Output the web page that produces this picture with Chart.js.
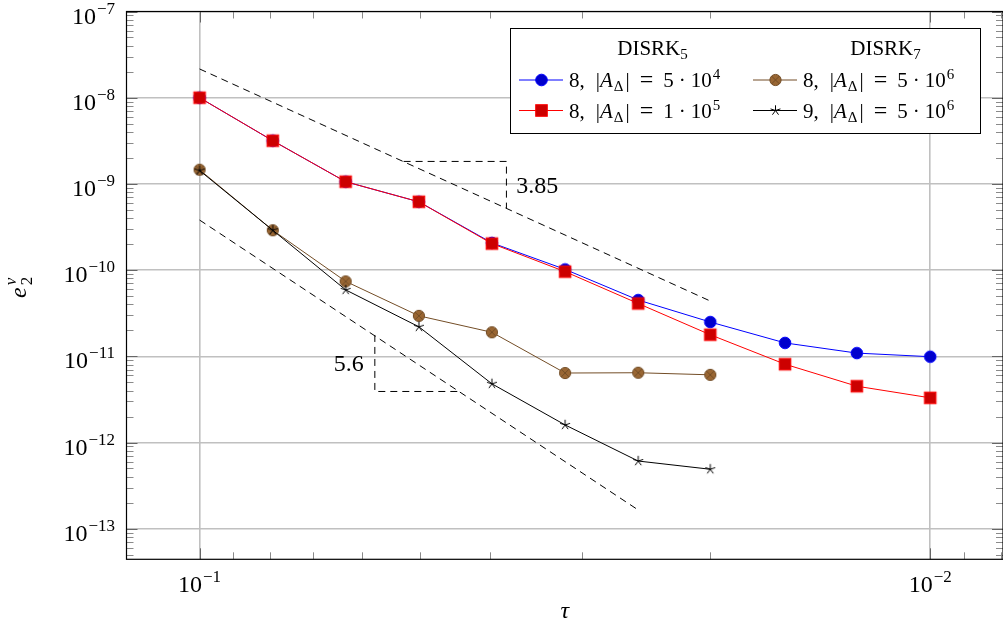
<!DOCTYPE html>
<html>
<head>
<meta charset="utf-8">
<script src="https://cdn.jsdelivr.net/npm/chart.js@4.4.1/dist/chart.umd.min.js"></script>
<style>
  html, body { margin: 0; padding: 0; background: #fff; overflow: hidden; }
  #wrap { width: 1010px; height: 627px; }
</style>
</head>
<body>
<div id="wrap"><canvas id="myChart" width="1010" height="627"></canvas></div>
<script>
// step sizes tau (x axis, reversed log scale)
const tau = [0.1, 0.0794, 0.0631, 0.0501, 0.0398, 0.0316, 0.0251, 0.02, 0.0158, 0.0126, 0.01];

// errors e_2^v
const errDisrk5A = [1.0e-8, 3.17e-9, 1.06e-9, 6.2e-10, 2.07e-10, 1.02e-10, 4.5e-11, 2.5e-11, 1.43e-11, 1.09e-11, 9.9e-12];
const errDisrk5B = [1.0e-8, 3.17e-9, 1.06e-9, 6.2e-10, 2.03e-10, 9.6e-11, 4.1e-11, 1.78e-11, 8.1e-12, 4.5e-12, 3.3e-12];
const errDisrk7A = [1.46e-9, 2.9e-10, 7.4e-11, 2.95e-11, 1.9e-11, 6.4e-12, 6.45e-12, 6.1e-12];
const errDisrk7B = [1.43e-9, 2.9e-10, 5.9e-11, 2.2e-11, 4.8e-12, 1.6e-12, 6.1e-13, 4.9e-13];

// reference slopes (dashed)
const slopeHighX = [0.1, 0.02];
const slopeHighY = [2.155e-8, 4.38e-11];
const slopeLowX = [0.1, 0.02507];
const slopeLowY = [3.81e-10, 1.64e-13];
const triHighX = [0.05257, 0.03802, 0.03802];
const triHighY = [1.823e-9, 1.823e-9, 5.25e-10];
const triLowX = [0.05756, 0.05756, 0.0441];
const triLowY = [1.77e-11, 3.91e-12, 3.91e-12];
const slopeText = ['3.85', '5.6'];
const slopeTextX = [0.03687, 0.05959];
const slopeTextY = [9.32e-10, 7.91e-12];

// legend
const legendHeads = ['5', '7'];
const legendRank = ['8', '8', '8', '9'];
const legendCoef = ['5', '1', '5', '5'];
const legendPow = ['4', '5', '6', '6'];

const SERIF = '"Liberation Serif", "Times New Roman", serif';
const GRID = '#c0c0c0';

const pts = (xs, ys) => ys.map((y, i) => ({ x: xs[i], y: y }));

// --- marker painters (pgfplots default cycle look) ---
function paintCircle(g, x, y)
{
    g.beginPath();
    g.arc(x, y, 5.8, 0, Math.PI * 2);
    g.fillStyle = 'rgb(0,0,204)';
    g.fill();
    g.lineWidth = 1;
    g.strokeStyle = 'rgb(0,0,255)';
    g.stroke();
}

function paintSquare(g, x, y)
{
    const s = 5.8;
    g.fillStyle = 'rgb(204,0,0)';
    g.fillRect(x - s, y - s, 2 * s, 2 * s);
    g.lineWidth = 1;
    g.strokeStyle = 'rgb(255,0,0)';
    g.strokeRect(x - s, y - s, 2 * s, 2 * s);
}

function paintOtimes(g, x, y)
{
    const r = 5.6, d = r * 0.7071;
    g.beginPath();
    g.arc(x, y, r, 0, Math.PI * 2);
    g.fillStyle = 'rgb(153,102,51)';
    g.fill();
    g.lineWidth = 1;
    g.strokeStyle = 'rgb(115,77,38)';
    g.stroke();
    g.beginPath();
    g.moveTo(x - d, y - d); g.lineTo(x + d, y + d);
    g.moveTo(x - d, y + d); g.lineTo(x + d, y - d);
    g.stroke();
}

function paintStar(g, x, y)
{
    g.beginPath();
    for (let k = 0; k < 5; k++) {
        const a = -Math.PI / 2 + k * 2 * Math.PI / 5;
        g.moveTo(x, y);
        g.lineTo(x + 5.2 * Math.cos(a), y + 5.2 * Math.sin(a));
    }
    g.lineWidth = 1;
    g.strokeStyle = '#000';
    g.stroke();
}

function markerImage(paint)
{
    const c = document.createElement('canvas');
    c.width = 16; c.height = 16;
    paint(c.getContext('2d'), 8, 8);
    return c;
}

const painters = [paintCircle, paintSquare, paintOtimes, paintStar];
const lineColors = ['rgb(0,0,255)', 'rgb(255,0,0)', 'rgb(115,77,38)', '#000'];

function decadeTicks(scale)
{
    const ticks = [];
    const lo = Math.floor(Math.log10(scale.min));
    const hi = Math.ceil(Math.log10(scale.max));
    for (let e = lo; e <= hi; e++) {
        for (let m = 1; m <= 9; m++) {
            const v = m * Math.pow(10, e);
            if (v >= scale.min * 0.99999 && v <= scale.max * 1.00001) {
                ticks.push({ value: v, major: m === 1 });
            }
        }
    }
    scale.ticks = ticks;
}

// draws a sequence of text pieces; returns width
function drawRuns(ctx, runs, x, y, align)
{
    ctx.textAlign = 'left';
    ctx.textBaseline = 'alphabetic';
    let w = 0;
    for (const r of runs) {
        if (r.gap) { w += r.gap; continue; }
        ctx.font = r.font;
        w += ctx.measureText(r.text).width;
    }
    let cx = align === 'right' ? x - w : align === 'center' ? x - w / 2 : x;
    for (const r of runs) {
        if (r.gap) { cx += r.gap; continue; }
        ctx.font = r.font;
        ctx.fillText(r.text, cx, y + (r.dy || 0));
        cx += ctx.measureText(r.text).width;
    }
    return w;
}

function powerRuns(exp)
{
    return [
        { text: '10', font: `24px ${SERIF}` },
        { gap: 1 },
        { text: '\u2212' + Math.abs(exp), font: `17px ${SERIF}`, dy: -10 },
    ];
}

const axisDecor = {
    id: 'axisDecor',
    beforeDatasetsDraw(chart)
    {
        const { ctx, chartArea: a, scales } = chart;
        ctx.save();
        ctx.lineWidth = 1;
        for (const t of scales.y.ticks) {
            const py = Math.round(scales.y.getPixelForValue(t.value)) + 0.5;
            const len = t.major ? 11 : 7;
            ctx.strokeStyle = t.major ? '#666' : '#8a8a8a';
            ctx.beginPath();
            ctx.moveTo(a.left, py); ctx.lineTo(a.left + len, py);
            ctx.moveTo(a.right, py); ctx.lineTo(a.right - len, py);
            ctx.stroke();
        }
        for (const t of scales.x.ticks) {
            const px = Math.round(scales.x.getPixelForValue(t.value)) + 0.5;
            const len = t.major ? 11 : 7;
            ctx.strokeStyle = t.major ? '#666' : '#8a8a8a';
            ctx.beginPath();
            ctx.moveTo(px, a.bottom); ctx.lineTo(px, a.bottom - len);
            ctx.moveTo(px, a.top); ctx.lineTo(px, a.top + len);
            ctx.stroke();
        }
        ctx.restore();
    },
    afterDraw(chart)
    {
        const { ctx, chartArea: a, scales } = chart;
        ctx.save();
        // frame
        ctx.strokeStyle = '#000';
        ctx.lineWidth = 1.2;
        ctx.strokeRect(a.left, a.top, a.right - a.left, a.bottom - a.top);

        // tick labels
        ctx.fillStyle = '#000';
        for (const t of scales.y.ticks) {
            if (!t.major) continue;
            const py = scales.y.getPixelForValue(t.value);
            drawRuns(ctx, powerRuns(Math.round(Math.log10(t.value))), 115, py + 12, 'right');
        }
        for (const t of scales.x.ticks) {
            if (!t.major) continue;
            const px = scales.x.getPixelForValue(t.value);
            drawRuns(ctx, powerRuns(Math.round(Math.log10(t.value))), px, a.bottom + 33, 'center');
        }

        // axis titles
        ctx.font = `italic 24px ${SERIF}`;
        ctx.textAlign = 'center';
        ctx.fillText('\u03C4', (a.left + a.right) / 2, 618);
        ctx.save();
        ctx.translate(26, 298);
        ctx.rotate(-Math.PI / 2);
        ctx.textAlign = 'left';
        ctx.font = `italic 24px ${SERIF}`;
        ctx.fillText('e', 0, 0);
        const ew = ctx.measureText('e').width;
        ctx.font = `italic 17px ${SERIF}`;
        ctx.fillText('v', ew + 2, -10);
        ctx.font = `17px ${SERIF}`;
        ctx.fillText('2', ew + 2, 6);
        ctx.restore();

        // slope labels
        ctx.font = `24px ${SERIF}`;
        ctx.textBaseline = 'middle';
        ctx.textAlign = 'left';
        ctx.fillText(slopeText[0], scales.x.getPixelForValue(slopeTextX[0]), scales.y.getPixelForValue(slopeTextY[0]));
        ctx.textAlign = 'right';
        ctx.fillText(slopeText[1], scales.x.getPixelForValue(slopeTextX[1]), scales.y.getPixelForValue(slopeTextY[1]));

        // legend
        const bx = 510.5, by = 28.5, bw = 470, bh = 105;
        ctx.fillStyle = '#fff';
        ctx.fillRect(bx, by, bw, bh);
        ctx.strokeStyle = '#000';
        ctx.lineWidth = 1;
        ctx.strokeRect(bx, by, bw, bh);
        ctx.fillStyle = '#000';
        const colX = [519, 753];
        const colHead = [652.5, 885.5];
        const rowY = [80, 110.5];
        legendHeads.forEach((h, c) => {
            drawRuns(ctx, [
                { text: 'DISRK', font: `21px ${SERIF}` },
                { text: h, font: `15px ${SERIF}`, dy: 4 },
            ], colHead[c], 54.5, 'center');
        });
        for (let i = 0; i < 4; i++) {
            const c = Math.floor(i / 2), r = i % 2;
            const lx = colX[c], ly = rowY[r];
            ctx.strokeStyle = lineColors[i];
            ctx.lineWidth = 1;
            ctx.beginPath();
            ctx.moveTo(lx, ly); ctx.lineTo(lx + 44, ly);
            ctx.stroke();
            painters[i](ctx, lx + 22.5, ly);
            ctx.fillStyle = '#000';
            drawRuns(ctx, [
                { text: legendRank[i] + ',', font: `21px ${SERIF}` },
                { gap: 11 },
                { text: '|', font: `21px ${SERIF}` },
                { text: 'A', font: `italic 21px ${SERIF}` },
                { gap: 1 },
                { text: '\u0394', font: `15px ${SERIF}`, dy: 4 },
                { gap: 2 },
                { text: '|', font: `21px ${SERIF}` },
                { gap: 10 },
                { text: '=', font: `24px ${SERIF}` },
                { gap: 10 },
                { text: legendCoef[i], font: `21px ${SERIF}` },
                { gap: 5 },
                { text: '\u00B7', font: `21px ${SERIF}` },
                { gap: 5 },
                { text: '10', font: `21px ${SERIF}` },
                { gap: 1 },
                { text: legendPow[i], font: `15px ${SERIF}`, dy: -8 },
            ], lx + 50, ly + 7, 'left');
        }
        ctx.restore();
    },
};

function dashed(xs, ys)
{
    return {
        data: pts(xs, ys),
        borderColor: '#000',
        borderWidth: 1,
        borderDash: [7, 5],
        pointRadius: 0,
        fill: false,
        order: 10,
    };
}

function series(ys, i)
{
    return {
        data: pts(tau, ys),
        borderColor: lineColors[i],
        borderWidth: 1,
        pointStyle: markerImage(painters[i]),
        pointRadius: 6,
        fill: false,
        order: 4 - i,
    };
}

const logAxis = (min, max, reverse) => ({
    type: 'logarithmic',
    reverse: reverse,
    min: min,
    max: max,
    afterBuildTicks: decadeTicks,
    grid: {
        color: (c) => (c.tick && c.tick.major) ? GRID : 'rgba(0,0,0,0)',
        lineWidth: 1.6,
        drawTicks: false,
    },
    border: { display: false },
    ticks: { display: false },
    title: { display: false },
});

const config = {
    type: 'line',
    data: {
        datasets: [
            series(errDisrk5A, 0),
            series(errDisrk5B, 1),
            series(errDisrk7A, 2),
            series(errDisrk7B, 3),
            dashed(slopeHighX, slopeHighY),
            dashed(slopeLowX, slopeLowY),
            dashed(triHighX, triHighY),
            dashed(triLowX, triLowY),
        ],
    },
    options: {
        responsive: false,
        animation: false,
        devicePixelRatio: 1,
        layout: { padding: { left: 126.5, top: 11.5, right: 3, bottom: 67.7 } },
        plugins: { legend: { display: false }, tooltip: { enabled: false } },
        elements: { line: { tension: 0 } },
        scales: {
            x: logAxis(0.00795, 0.1259, true),
            y: logAxis(4.42e-14, 1e-7, false),
        },
    },
    plugins: [axisDecor],
};

new Chart(document.getElementById('myChart').getContext('2d'), config);
</script>
</body>
</html>
